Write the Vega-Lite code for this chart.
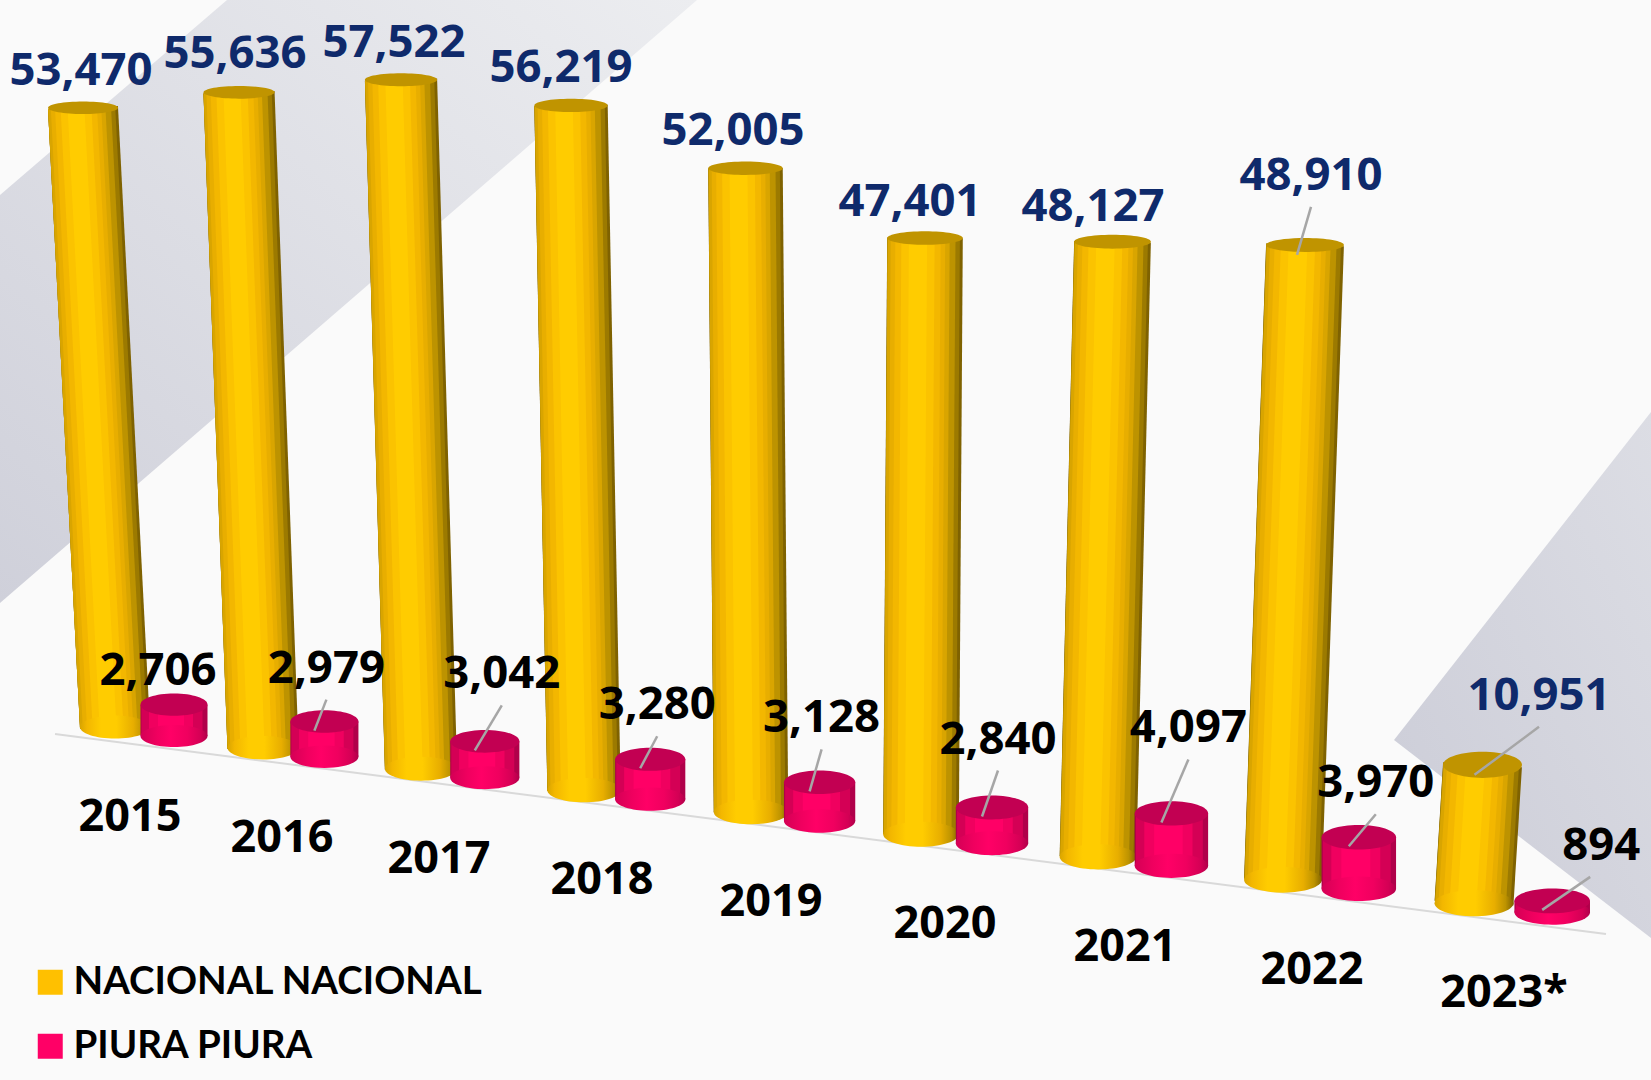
{"$schema":"https://vega.github.io/schema/vega-lite/v6.json","width":1651,"height":1080,"autosize":{"type":"none"},"padding":0,"background":"#fafafa","config":{"view":{"stroke":null}},
"datasets":{"rows":[
{"year":2015,"label":"2015","series":"NACIONAL NACIONAL","value":53470},{"year":2016,"label":"2016","series":"NACIONAL NACIONAL","value":55636},{"year":2017,"label":"2017","series":"NACIONAL NACIONAL","value":57522},{"year":2018,"label":"2018","series":"NACIONAL NACIONAL","value":56219},{"year":2019,"label":"2019","series":"NACIONAL NACIONAL","value":52005},{"year":2020,"label":"2020","series":"NACIONAL NACIONAL","value":47401},{"year":2021,"label":"2021","series":"NACIONAL NACIONAL","value":48127},{"year":2022,"label":"2022","series":"NACIONAL NACIONAL","value":48910},{"year":2023,"label":"2023*","series":"NACIONAL NACIONAL","value":10951},
{"year":2015,"label":"2015","series":"PIURA PIURA","value":2706},{"year":2016,"label":"2016","series":"PIURA PIURA","value":2979},{"year":2017,"label":"2017","series":"PIURA PIURA","value":3042},{"year":2018,"label":"2018","series":"PIURA PIURA","value":3280},{"year":2019,"label":"2019","series":"PIURA PIURA","value":3128},{"year":2020,"label":"2020","series":"PIURA PIURA","value":2840},{"year":2021,"label":"2021","series":"PIURA PIURA","value":4097},{"year":2022,"label":"2022","series":"PIURA PIURA","value":3970},{"year":2023,"label":"2023*","series":"PIURA PIURA","value":894}]},
"resolve":{"scale":{"x":"independent","y":"independent"}},
"layer":[
{"data":{"values":[{"px":0,"t":195,"b":603},{"px":227,"t":0,"b":407},{"px":697,"t":0,"b":0}]},"mark":{"type":"area","fill":{"x1":0,"y1":1,"x2":1,"y2":0,"gradient":"linear","stops":[{"offset":0,"color":"#cfd0da"},{"offset":1,"color":"#ecedf0"}]}},"encoding":{"x":{"field":"px","type":"quantitative","axis":null,"scale":{"domain":[0,1651],"range":[0,1651]}},"y":{"field":"t","type":"quantitative","axis":null,"scale":{"domain":[0,1080],"range":[0,1080]}},"y2":{"field":"b"}}},
{"data":{"values":[{"px":1394,"t":740,"b":740},{"px":1651,"t":412,"b":938}]},"mark":{"type":"area","fill":{"x1":0,"y1":1,"x2":1,"y2":0,"gradient":"linear","stops":[{"offset":0,"color":"#cbccd7"},{"offset":1,"color":"#dcdde4"}]}},"encoding":{"x":{"field":"px","type":"quantitative","axis":null,"scale":{"domain":[0,1651],"range":[0,1651]}},"y":{"field":"t","type":"quantitative","axis":null,"scale":{"domain":[0,1080],"range":[0,1080]}},"y2":{"field":"b"}}},
{"data":{"values":[{"px":55,"py":734},{"px":1606,"py":934}]},"mark":{"type":"line","stroke":"#d9d9d9","strokeWidth":2},"encoding":{"x":{"field":"px","type":"quantitative","axis":null,"scale":{"domain":[0,1651],"range":[0,1651]}},"y":{"field":"py","type":"quantitative","axis":null,"scale":{"domain":[0,1080],"range":[0,1080]}}}},
{"data":{"name":"rows"},
"encoding":{"x":{"field":"year","type":"quantitative","axis":null,"scale":{"domain":[2015,2016,2017,2018,2019,2020,2021,2022,2023],"range":[115,263,421,584,751,921,1098,1283,1474],"zero":false,"nice":false}},"y":{"field":"value","type":"quantitative","axis":null,"scale":{"domain":[0,58724],"range":[727,0],"zero":true,"nice":false}}},
"layer":[
{"transform":[{"filter":"datum.series=='NACIONAL NACIONAL'"}],"mark":{"type":"point","filled":true,"shape":"M-1,0C-1,-0.182,-0.55,-0.33,0,-0.33C0.55,-0.33,1,-0.182,1,0C1,0.182,0.55,0.33,0,0.33C-0.55,0.33,-1,0.182,-1,0Z","size":{"expr":"pow(66*(1+0.016*(datum.year-2015)),2)"},"opacity":1,"yOffset":{"expr":"20.5*(datum.year-2015)+0.19*pow(datum.year-2015,2)"}},"encoding":{"y":{"datum":0},"fill":{"field":"series","type":"nominal","scale":{"domain":["NACIONAL NACIONAL","PIURA PIURA"],"range":["#ffc000","#ff0066"]},"legend":{"title":null,"orient":"none","legendX":31,"legendY":963,"padding":0,"symbolType":"square","symbolSize":625,"symbolStrokeWidth":0,"labelFont":"Lato","labelFontSize":38.5,"labelFontWeight":"bold","labelColor":"#000000","rowPadding":25,"labelOffset":4,"labelLimit":600}}}},
{"transform":[{"filter":"datum.series=='NACIONAL NACIONAL'"}],"mark":{"type":"rule","stroke":"#7f6200","strokeWidth":{"expr":"70*(1+0.016*(datum.year-2015))"},"xOffset":{"expr":"[-32,-24,-20,-13,-5.5,4,14.5,22,8.5][datum.year-2015]"},"yOffset":{"expr":"20.5*(datum.year-2015)+0.19*pow(datum.year-2015,2)-datum.value*[-4,-3,-2,-1,0,1,2,3,1.25][datum.year-2015]*0.0002"},"y2Offset":{"expr":"20.5*(datum.year-2015)+0.19*pow(datum.year-2015,2)"}},"encoding":{"x2":{"field":"year"},"y2":{"datum":0}}},
{"transform":[{"filter":"datum.series=='NACIONAL NACIONAL'"}],"mark":{"type":"rule","stroke":"#9c7a00","strokeWidth":{"expr":"67.2*(1+0.016*(datum.year-2015))"},"xOffset":{"expr":"[-32,-24,-20,-13,-5.5,4,14.5,22,8.5][datum.year-2015]-1.4"},"x2Offset":{"expr":"-1.4"},"yOffset":{"expr":"20.5*(datum.year-2015)+0.19*pow(datum.year-2015,2)-datum.value*[-4,-3,-2,-1,0,1,2,3,1.25][datum.year-2015]*0.0002"},"y2Offset":{"expr":"20.5*(datum.year-2015)+0.19*pow(datum.year-2015,2)"}},"encoding":{"x2":{"field":"year"},"y2":{"datum":0}}},
{"transform":[{"filter":"datum.series=='NACIONAL NACIONAL'"}],"mark":{"type":"rule","stroke":"#bd9300","strokeWidth":{"expr":"63*(1+0.016*(datum.year-2015))"},"xOffset":{"expr":"[-32,-24,-20,-13,-5.5,4,14.5,22,8.5][datum.year-2015]-3.5"},"x2Offset":{"expr":"-3.5"},"yOffset":{"expr":"20.5*(datum.year-2015)+0.19*pow(datum.year-2015,2)-datum.value*[-4,-3,-2,-1,0,1,2,3,1.25][datum.year-2015]*0.0002"},"y2Offset":{"expr":"20.5*(datum.year-2015)+0.19*pow(datum.year-2015,2)"}},"encoding":{"x2":{"field":"year"},"y2":{"datum":0}}},
{"transform":[{"filter":"datum.series=='NACIONAL NACIONAL'"}],"mark":{"type":"rule","stroke":"#d9a500","strokeWidth":{"expr":"57.4*(1+0.016*(datum.year-2015))"},"xOffset":{"expr":"[-32,-24,-20,-13,-5.5,4,14.5,22,8.5][datum.year-2015]-6.3"},"x2Offset":{"expr":"-6.3"},"yOffset":{"expr":"20.5*(datum.year-2015)+0.19*pow(datum.year-2015,2)-datum.value*[-4,-3,-2,-1,0,1,2,3,1.25][datum.year-2015]*0.0002"},"y2Offset":{"expr":"20.5*(datum.year-2015)+0.19*pow(datum.year-2015,2)"}},"encoding":{"x2":{"field":"year"},"y2":{"datum":0}}},
{"transform":[{"filter":"datum.series=='NACIONAL NACIONAL'"}],"mark":{"type":"rule","stroke":"#e8ae00","strokeWidth":{"expr":"50.4*(1+0.016*(datum.year-2015))"},"xOffset":{"expr":"[-32,-24,-20,-13,-5.5,4,14.5,22,8.5][datum.year-2015]-7"},"x2Offset":{"expr":"-7"},"yOffset":{"expr":"20.5*(datum.year-2015)+0.19*pow(datum.year-2015,2)-datum.value*[-4,-3,-2,-1,0,1,2,3,1.25][datum.year-2015]*0.0002"},"y2Offset":{"expr":"20.5*(datum.year-2015)+0.19*pow(datum.year-2015,2)"}},"encoding":{"x2":{"field":"year"},"y2":{"datum":0}}},
{"transform":[{"filter":"datum.series=='NACIONAL NACIONAL'"}],"mark":{"type":"rule","stroke":"#f3b700","strokeWidth":{"expr":"42*(1+0.016*(datum.year-2015))"},"xOffset":{"expr":"[-32,-24,-20,-13,-5.5,4,14.5,22,8.5][datum.year-2015]-7"},"x2Offset":{"expr":"-7"},"yOffset":{"expr":"20.5*(datum.year-2015)+0.19*pow(datum.year-2015,2)-datum.value*[-4,-3,-2,-1,0,1,2,3,1.25][datum.year-2015]*0.0002"},"y2Offset":{"expr":"20.5*(datum.year-2015)+0.19*pow(datum.year-2015,2)"}},"encoding":{"x2":{"field":"year"},"y2":{"datum":0}}},
{"transform":[{"filter":"datum.series=='NACIONAL NACIONAL'"}],"mark":{"type":"rule","stroke":"#fbc300","strokeWidth":{"expr":"30.8*(1+0.016*(datum.year-2015))"},"xOffset":{"expr":"[-32,-24,-20,-13,-5.5,4,14.5,22,8.5][datum.year-2015]-7"},"x2Offset":{"expr":"-7"},"yOffset":{"expr":"20.5*(datum.year-2015)+0.19*pow(datum.year-2015,2)-datum.value*[-4,-3,-2,-1,0,1,2,3,1.25][datum.year-2015]*0.0002"},"y2Offset":{"expr":"20.5*(datum.year-2015)+0.19*pow(datum.year-2015,2)"}},"encoding":{"x2":{"field":"year"},"y2":{"datum":0}}},
{"transform":[{"filter":"datum.series=='NACIONAL NACIONAL'"}],"mark":{"type":"rule","stroke":"#ffcc00","strokeWidth":{"expr":"16.8*(1+0.016*(datum.year-2015))"},"xOffset":{"expr":"[-32,-24,-20,-13,-5.5,4,14.5,22,8.5][datum.year-2015]-7"},"x2Offset":{"expr":"-7"},"yOffset":{"expr":"20.5*(datum.year-2015)+0.19*pow(datum.year-2015,2)-datum.value*[-4,-3,-2,-1,0,1,2,3,1.25][datum.year-2015]*0.0002"},"y2Offset":{"expr":"20.5*(datum.year-2015)+0.19*pow(datum.year-2015,2)"}},"encoding":{"x2":{"field":"year"},"y2":{"datum":0}}},
{"transform":[{"filter":"datum.series=='NACIONAL NACIONAL'"}],"mark":{"type":"point","filled":true,"opacity":1,"fill":{"x1":0,"y1":0,"x2":1,"y2":0,"gradient":"linear","stops":[{"offset":0,"color":"#d9a500"},{"offset":0.1,"color":"#f3b700"},{"offset":0.3,"color":"#ffcc00"},{"offset":0.52,"color":"#ffcc00"},{"offset":0.76,"color":"#e8ae00"},{"offset":0.9,"color":"#bd9300"},{"offset":1,"color":"#7f6200"}]},"shape":"M-1,0C-1,-0.182,-0.55,-0.33,0,-0.33C0.55,-0.33,1,-0.182,1,0C1,0.182,0.55,0.33,0,0.33C-0.55,0.33,-1,0.182,-1,0Z","size":{"expr":"pow(70*(1+0.016*(datum.year-2015)),2)"},"yOffset":{"expr":"20.5*(datum.year-2015)+0.19*pow(datum.year-2015,2)"}},"encoding":{"y":{"datum":0}}},
{"transform":[{"filter":"datum.series=='NACIONAL NACIONAL' && datum.year<2023"}],"mark":{"type":"point","filled":true,"opacity":1,"fill":"#c09400","shape":"M-1,0C-1,-0.1,-0.55,-0.18,0,-0.18C0.55,-0.18,1,-0.1,1,0C1,0.1,0.55,0.18,0,0.18C-0.55,0.18,-1,0.1,-1,0Z","size":{"expr":"pow(70*(1+0.016*(datum.year-2015)),2)"},"xOffset":{"expr":"[-32,-24,-20,-13,-5.5,4,14.5,22,8.5][datum.year-2015]"},"yOffset":{"expr":"20.5*(datum.year-2015)+0.19*pow(datum.year-2015,2)-datum.value*[-4,-3,-2,-1,0,1,2,3,1.25][datum.year-2015]*0.0002"}}},
{"transform":[{"filter":"datum.series=='NACIONAL NACIONAL' && datum.year==2023"}],"mark":{"type":"point","filled":true,"opacity":1,"fill":"#c09400","shape":"M-1,0C-1,-0.182,-0.55,-0.33,0,-0.33C0.55,-0.33,1,-0.182,1,0C1,0.182,0.55,0.33,0,0.33C-0.55,0.33,-1,0.182,-1,0Z","size":{"expr":"pow(70*(1+0.016*(datum.year-2015)),2)"},"xOffset":{"expr":"[-32,-24,-20,-13,-5.5,4,14.5,22,8.5][datum.year-2015]"},"yOffset":{"expr":"20.5*(datum.year-2015)+0.19*pow(datum.year-2015,2)-datum.value*[-4,-3,-2,-1,0,1,2,3,1.25][datum.year-2015]*0.0002"}}},
{"transform":[{"filter":"datum.series=='PIURA PIURA'"}],"mark":{"type":"rule","stroke":"#b0004a","strokeWidth":{"expr":"67*(1+0.016*(datum.year-2015))"},"xOffset":{"expr":"59+2.4*(datum.year-2015)"},"x2Offset":{"expr":"59+2.4*(datum.year-2015)"},"yOffset":{"expr":"9+20.5*(datum.year-2015)+0.19*pow(datum.year-2015,2)-datum.value*[-4,-3,-2,-1,0,1,2,3,1.25][datum.year-2015]*0.0002"},"y2Offset":{"expr":"9+20.5*(datum.year-2015)+0.19*pow(datum.year-2015,2)"}},"encoding":{"x2":{"field":"year"},"y2":{"datum":0}}},
{"transform":[{"filter":"datum.series=='PIURA PIURA'"}],"mark":{"type":"rule","stroke":"#d40055","strokeWidth":{"expr":"61*(1+0.016*(datum.year-2015))"},"xOffset":{"expr":"57+2.4*(datum.year-2015)"},"x2Offset":{"expr":"57+2.4*(datum.year-2015)"},"yOffset":{"expr":"9+20.5*(datum.year-2015)+0.19*pow(datum.year-2015,2)-datum.value*[-4,-3,-2,-1,0,1,2,3,1.25][datum.year-2015]*0.0002"},"y2Offset":{"expr":"9+20.5*(datum.year-2015)+0.19*pow(datum.year-2015,2)"}},"encoding":{"x2":{"field":"year"},"y2":{"datum":0}}},
{"transform":[{"filter":"datum.series=='PIURA PIURA'"}],"mark":{"type":"rule","stroke":"#f0005f","strokeWidth":{"expr":"44*(1+0.016*(datum.year-2015))"},"xOffset":{"expr":"56+2.4*(datum.year-2015)"},"x2Offset":{"expr":"56+2.4*(datum.year-2015)"},"yOffset":{"expr":"9+20.5*(datum.year-2015)+0.19*pow(datum.year-2015,2)-datum.value*[-4,-3,-2,-1,0,1,2,3,1.25][datum.year-2015]*0.0002"},"y2Offset":{"expr":"9+20.5*(datum.year-2015)+0.19*pow(datum.year-2015,2)"}},"encoding":{"x2":{"field":"year"},"y2":{"datum":0}}},
{"transform":[{"filter":"datum.series=='PIURA PIURA'"}],"mark":{"type":"rule","stroke":"#ff0066","strokeWidth":{"expr":"26*(1+0.016*(datum.year-2015))"},"xOffset":{"expr":"56+2.4*(datum.year-2015)"},"x2Offset":{"expr":"56+2.4*(datum.year-2015)"},"yOffset":{"expr":"9+20.5*(datum.year-2015)+0.19*pow(datum.year-2015,2)-datum.value*[-4,-3,-2,-1,0,1,2,3,1.25][datum.year-2015]*0.0002"},"y2Offset":{"expr":"9+20.5*(datum.year-2015)+0.19*pow(datum.year-2015,2)"}},"encoding":{"x2":{"field":"year"},"y2":{"datum":0}}},
{"transform":[{"filter":"datum.series=='PIURA PIURA'"}],"mark":{"type":"point","filled":true,"opacity":1,"fill":{"x1":0,"y1":0,"x2":1,"y2":0,"gradient":"linear","stops":[{"offset":0,"color":"#d40055"},{"offset":0.25,"color":"#f0005f"},{"offset":0.45,"color":"#ff0066"},{"offset":0.7,"color":"#f0005f"},{"offset":0.9,"color":"#d40055"},{"offset":1,"color":"#b0004a"}]},"shape":"M-1,0C-1,-0.182,-0.55,-0.33,0,-0.33C0.55,-0.33,1,-0.182,1,0C1,0.182,0.55,0.33,0,0.33C-0.55,0.33,-1,0.182,-1,0Z","size":{"expr":"pow(67*(1+0.016*(datum.year-2015)),2)"},"xOffset":{"expr":"59+2.4*(datum.year-2015)"},"yOffset":{"expr":"9+20.5*(datum.year-2015)+0.19*pow(datum.year-2015,2)"}},"encoding":{"y":{"datum":0}}},
{"transform":[{"filter":"datum.series=='PIURA PIURA'"}],"mark":{"type":"point","filled":true,"opacity":1,"fill":"#c20052","shape":"M-1,0C-1,-0.182,-0.55,-0.33,0,-0.33C0.55,-0.33,1,-0.182,1,0C1,0.182,0.55,0.33,0,0.33C-0.55,0.33,-1,0.182,-1,0Z","size":{"expr":"pow(67*(1+0.016*(datum.year-2015)),2)"},"xOffset":{"expr":"59+2.4*(datum.year-2015)"},"yOffset":{"expr":"9+20.5*(datum.year-2015)+0.19*pow(datum.year-2015,2)-datum.value*[-4,-3,-2,-1,0,1,2,3,1.25][datum.year-2015]*0.0002"}}},
{"transform":[{"filter":"datum.series=='PIURA PIURA' && datum.year>=2016"}],"mark":{"type":"rule","stroke":"#a6a6a6","strokeWidth":2.5,"xOffset":{"expr":"49+2.4*(datum.year-2015)"},"x2Offset":{"expr":"59+2.4*(datum.year-2015)+[-16,2,17,7,2,6,17,17,38][datum.year-2015]"},"yOffset":{"expr":"18+20.5*(datum.year-2015)+0.19*pow(datum.year-2015,2)-datum.value*[-4,-3,-2,-1,0,1,2,3,1.25][datum.year-2015]*0.0002"},"y2Offset":{"expr":"9+20.5*(datum.year-2015)+0.19*pow(datum.year-2015,2)-datum.value*[-4,-3,-2,-1,0,1,2,3,1.25][datum.year-2015]*0.0002+[-36,-55,-69,-56,-66,-70,-87,-56,-57][datum.year-2015]+33"}},"encoding":{"x2":{"field":"year"},"y2":{"field":"value"}}},
{"transform":[{"filter":"datum.series=='NACIONAL NACIONAL' && datum.year>=2022"}],"mark":{"type":"rule","stroke":"#a6a6a6","strokeWidth":2.5,"xOffset":{"expr":"[-32,-24,-20,-13,-5.5,4,14.5,22,8.5][datum.year-2015]-8"},"x2Offset":{"expr":"[-34,-28,-27,-23,-18,-11,-5,28,65][datum.year-2015]"},"yOffset":{"expr":"10+20.5*(datum.year-2015)+0.19*pow(datum.year-2015,2)-datum.value*[-4,-3,-2,-1,0,1,2,3,1.25][datum.year-2015]*0.0002"},"y2Offset":{"expr":"20.5*(datum.year-2015)+0.19*pow(datum.year-2015,2)-datum.value*[-4,-3,-2,-1,0,1,2,3,1.25][datum.year-2015]*0.0002+[-40,-41,-40,-40,-40,-39,-38,-72,-72][datum.year-2015]+34"}},"encoding":{"x2":{"field":"year"},"y2":{"field":"value"}}},
{"transform":[{"filter":"datum.series=='NACIONAL NACIONAL'"}],"mark":{"type":"text","font":"Noto Sans","fontWeight":"bold","fontSize":45.5,"fill":"#0f2a6b","align":"center","baseline":"middle","xOffset":{"expr":"[-34,-28,-27,-23,-18,-11,-5,28,65][datum.year-2015]"},"yOffset":{"expr":"3+20.5*(datum.year-2015)+0.19*pow(datum.year-2015,2)-datum.value*[-4,-3,-2,-1,0,1,2,3,1.25][datum.year-2015]*0.0002+[-40,-41,-40,-40,-40,-39,-38,-72,-72][datum.year-2015]"}},"encoding":{"text":{"field":"value","type":"quantitative","format":","}}},
{"transform":[{"filter":"datum.series=='PIURA PIURA'"}],"mark":{"type":"text","font":"Noto Sans","fontWeight":"bold","fontSize":45.5,"fill":"#000000","align":"center","baseline":"middle","xOffset":{"expr":"59+2.4*(datum.year-2015)+[-16,2,17,7,2,6,17,17,49][datum.year-2015]"},"yOffset":{"expr":"11+20.5*(datum.year-2015)+0.19*pow(datum.year-2015,2)-datum.value*[-4,-3,-2,-1,0,1,2,3,1.25][datum.year-2015]*0.0002+[-36,-55,-69,-56,-66,-70,-87,-56,-57][datum.year-2015]"}},"encoding":{"text":{"field":"value","type":"quantitative","format":","}}},
{"transform":[{"filter":"datum.series=='NACIONAL NACIONAL'"}],"mark":{"type":"text","font":"Noto Sans","fontWeight":"bold","fontSize":45,"fill":"#000000","align":"center","baseline":"middle","xOffset":{"expr":"[15,19,18,18,20,24,27,29,30][datum.year-2015]"},"yOffset":{"expr":"90+20.5*(datum.year-2015)+0.19*pow(datum.year-2015,2)"}},"encoding":{"y":{"datum":0},"text":{"field":"label","type":"nominal"}}}
]}
]}
